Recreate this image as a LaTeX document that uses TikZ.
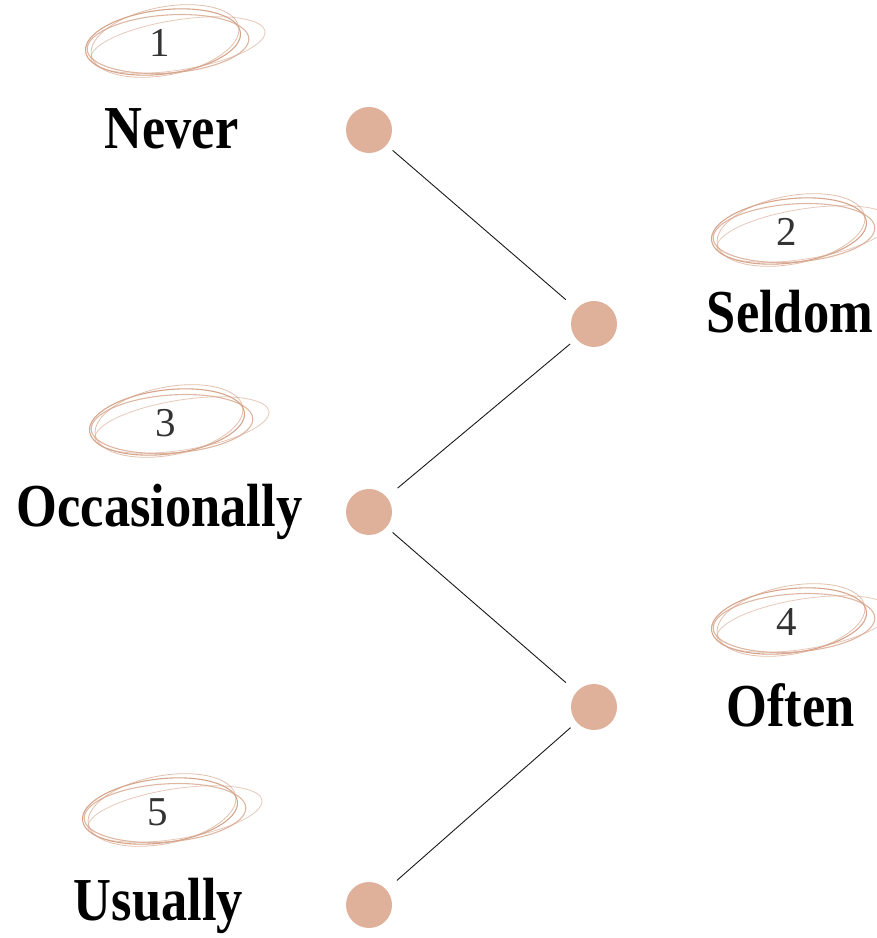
\documentclass[tikz,border=0pt]{standalone}
\usepackage{fontspec}
\setmainfont{Liberation Serif}
\definecolor{dotfill}{RGB}{223,177,154}
\definecolor{scrib}{RGB}{214,165,140}
\tikzset{
  dotnode/.style={circle, fill=dotfill, inner sep=0pt, minimum size=46pt},
  numnode/.style={inner sep=0pt, font=\fontsize{41}{41}\selectfont, text=black!80},
  wordnode/.style={inner sep=0pt, anchor=base, font=\fontsize{61}{61}\selectfont\bfseries},
  link/.style={line width=0.9pt, black!90, shorten <=8pt, shorten >=14pt},
  loopline/.style={draw=scrib, line width=1.1pt},
  scribble/.pic={
    \draw[loopline] (-1,1) ellipse[x radius=78, y radius=32, rotate=7];
    \draw[loopline, opacity=0.8] (4,-1) ellipse[x radius=81, y radius=29, rotate=4];
    \draw[loopline, opacity=0.6, line width=0.8pt] (14,-2) ellipse[x radius=88, y radius=25, rotate=9];
    \draw[loopline, opacity=0.7, line width=0.8pt] (1,2) ellipse[x radius=75, y radius=34, rotate=11];
  }
}
\newcommand{\wordtext}[1]{\scalebox{0.86}[1]{#1}}
\begin{document}
\begin{tikzpicture}[x=1pt, y=1pt]
  \useasboundingbox (0,0) rectangle (877,938);

  % dots of the zigzag
  \node[dotnode] (d1) at (369,808) {};
  \node[dotnode] (d2) at (594,614) {};
  \node[dotnode] (d3) at (369,426) {};
  \node[dotnode] (d4) at (594,231) {};
  \node[dotnode] (d5) at (369,33) {};

  % connectors between consecutive dots
  \draw[link] (d1) -- (d2);
  \draw[link] (d2) -- (d3);
  \draw[link] (d3) -- (d4);
  \draw[link] (d4) -- (d5);

  % circled step numbers
  \pic at (164,895) {scribble};
  \node[numnode] (n1) at (160,895) {1};
  \pic at (790,706) {scribble};
  \node[numnode] (n2) at (787,706) {2};
  \pic at (168,515) {scribble};
  \node[numnode] (n3) at (166,515) {3};
  \pic at (790,316) {scribble};
  \node[numnode] (n4) at (787,316) {4};
  \pic at (161,126) {scribble};
  \node[numnode] (n5) at (158,126) {5};

  % frequency words
  \node[wordnode] (w1) at (171.5,789) {\wordtext{Never}};
  \node[wordnode] (w2) at (790,605) {\wordtext{Seldom}};
  \node[wordnode] (w3) at (159.5,411) {\wordtext{Occasionally}};
  \node[wordnode] (w4) at (790.5,211) {\wordtext{Often}};
  \node[wordnode] (w5) at (158.5,17) {\wordtext{Usually}};
\end{tikzpicture}
\end{document}
